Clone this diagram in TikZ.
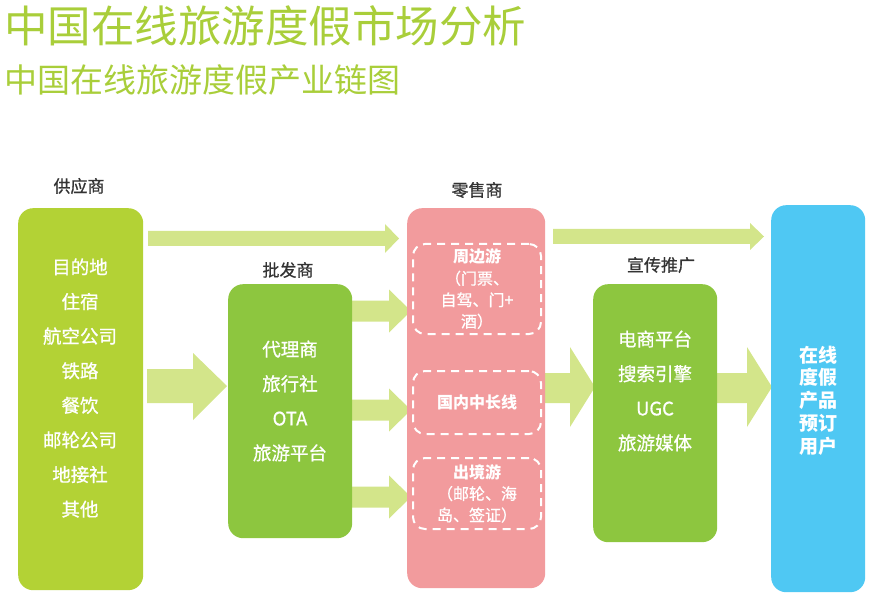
\documentclass[tikz,border=0pt]{standalone}
\usepackage{fontspec}
\setmainfont{Noto Sans CJK SC}
\newfontfamily\medfont{Noto Sans CJK SC}[FakeBold=0.8]
\begin{document}
\definecolor{titlegreen}{HTML}{A9CE3A}
\definecolor{supgreen}{HTML}{B3D235}
\definecolor{midgreen}{HTML}{8DC63F}
\definecolor{arrowgreen}{HTML}{D3E58A}
\definecolor{retailpink}{HTML}{F29B9D}
\definecolor{userblue}{HTML}{4FC8F3}
\definecolor{labelgrey}{HTML}{333333}
\begin{tikzpicture}[x=1pt,y=-1pt,
  stagebox/.style={rounded corners=15pt, inner sep=0pt, anchor=north west},
  stagelabel/.style={text=labelgrey, font=\medfont\fontsize{17}{20}\selectfont},
  boxtext/.style={text=white, align=center, font=\medfont\fontsize{18.5}{34.6}\selectfont},
  dashbox/.style={draw=white, dash pattern=on 8pt off 6pt, line width=2pt, rounded corners=12pt, inner sep=0pt, anchor=north west},
  dashtext/.style={text=white, align=center, font=\medfont\fontsize{16}{21.5}\selectfont},
  blockarrow/.style={fill=arrowgreen}]
\useasboundingbox (0,0) rectangle (875,612);

% titles
\node[anchor=west, text=titlegreen, inner sep=0pt, font=\fontsize{43.5}{46}\selectfont] (title) at (4,26) {中国在线旅游度假市场分析};
\node[anchor=west, text=titlegreen, inner sep=0pt, font=\fontsize{33}{36}\selectfont] (subtitle) at (4,80) {中国在线旅游度假产业链图};

% block arrows
\fill[blockarrow] (148,231) -- (385,231) -- (385,224) -- (399,238.5) -- (385,253) -- (385,246) -- (148,246) -- cycle;
\fill[blockarrow] (553,229) -- (750,229) -- (750,223) -- (764,236.5) -- (750,250) -- (750,244) -- (553,244) -- cycle;
\fill[blockarrow] (147,369) -- (193,369) -- (193,353) -- (227,386) -- (193,420) -- (193,403) -- (147,403) -- cycle;
\foreach \c in {311,410,497}{
  \fill[blockarrow] (352,\c-10.5) -- (389,\c-10.5) -- (389,\c-21.5) -- (411,\c) -- (389,\c+21.5) -- (389,\c+10.5) -- (352,\c+10.5) -- cycle;
}
\fill[blockarrow] (545,373) -- (570,373) -- (570,347) -- (595,387) -- (570,427) -- (570,403) -- (545,403) -- cycle;
\fill[blockarrow] (717,373) -- (747,373) -- (747,347) -- (772,387) -- (747,427) -- (747,403) -- (717,403) -- cycle;

% boxes
\node[stagebox, fill=supgreen, minimum width=125pt, minimum height=382pt] (sup) at (18,208) {};
\node[stagebox, fill=midgreen, minimum width=124pt, minimum height=254pt] (whole) at (228,284) {};
\node[stagebox, fill=retailpink, minimum width=138pt, minimum height=380pt] (retail) at (407,208) {};
\node[stagebox, fill=midgreen, minimum width=124pt, minimum height=258pt] (promo) at (593,284) {};
\node[stagebox, fill=userblue, minimum width=94pt, minimum height=387pt] (user) at (771,205) {};

% labels
\node[stagelabel] (lsup) at (79,186) {供应商};
\node[stagelabel] (lwhole) at (288,270) {批发商};
\node[stagelabel] (lretail) at (477,190) {零售商};
\node[stagelabel] (lpromo) at (661,265) {宣传推广};

% box texts
\node[boxtext] (tsup) at (80,388) {目的地\\住宿\\航空公司\\铁路\\餐饮\\邮轮公司\\地接社\\其他};
\node[boxtext] (twhole) at (290,401) {代理商\\旅行社\\OTA\\旅游平台};
\node[boxtext] (tpromo) at (655,391) {电商平台\\搜索引擎\\UGC\\旅游媒体};
\node[text=white, align=center, font=\fontsize{19}{22.8}\bfseries\selectfont] (tuser) at (818,400.5) {在线\\度假\\产品\\预订\\用户};

% retail inner dashed boxes
\node[dashbox, minimum width=128pt, minimum height=90pt] (d1) at (412,243) {};
\node[dashbox, minimum width=128pt, minimum height=63pt] (d2) at (412,370) {};
\node[dashbox, minimum width=128pt, minimum height=71pt] (d3) at (412,457) {};
\node[dashtext] (t1) at (d1.center) {{\normalfont\bfseries 周边游}\\（门票、\\自驾、门+\\酒）};
\node[dashtext, font=\fontsize{16}{21.5}\bfseries\selectfont] (t2) at (d2.center) {国内中长线};
\node[dashtext] (t3) at (d3.center) {{\normalfont\bfseries 出境游}\\（邮轮、海\\岛、签证）};
\end{tikzpicture}
\end{document}
